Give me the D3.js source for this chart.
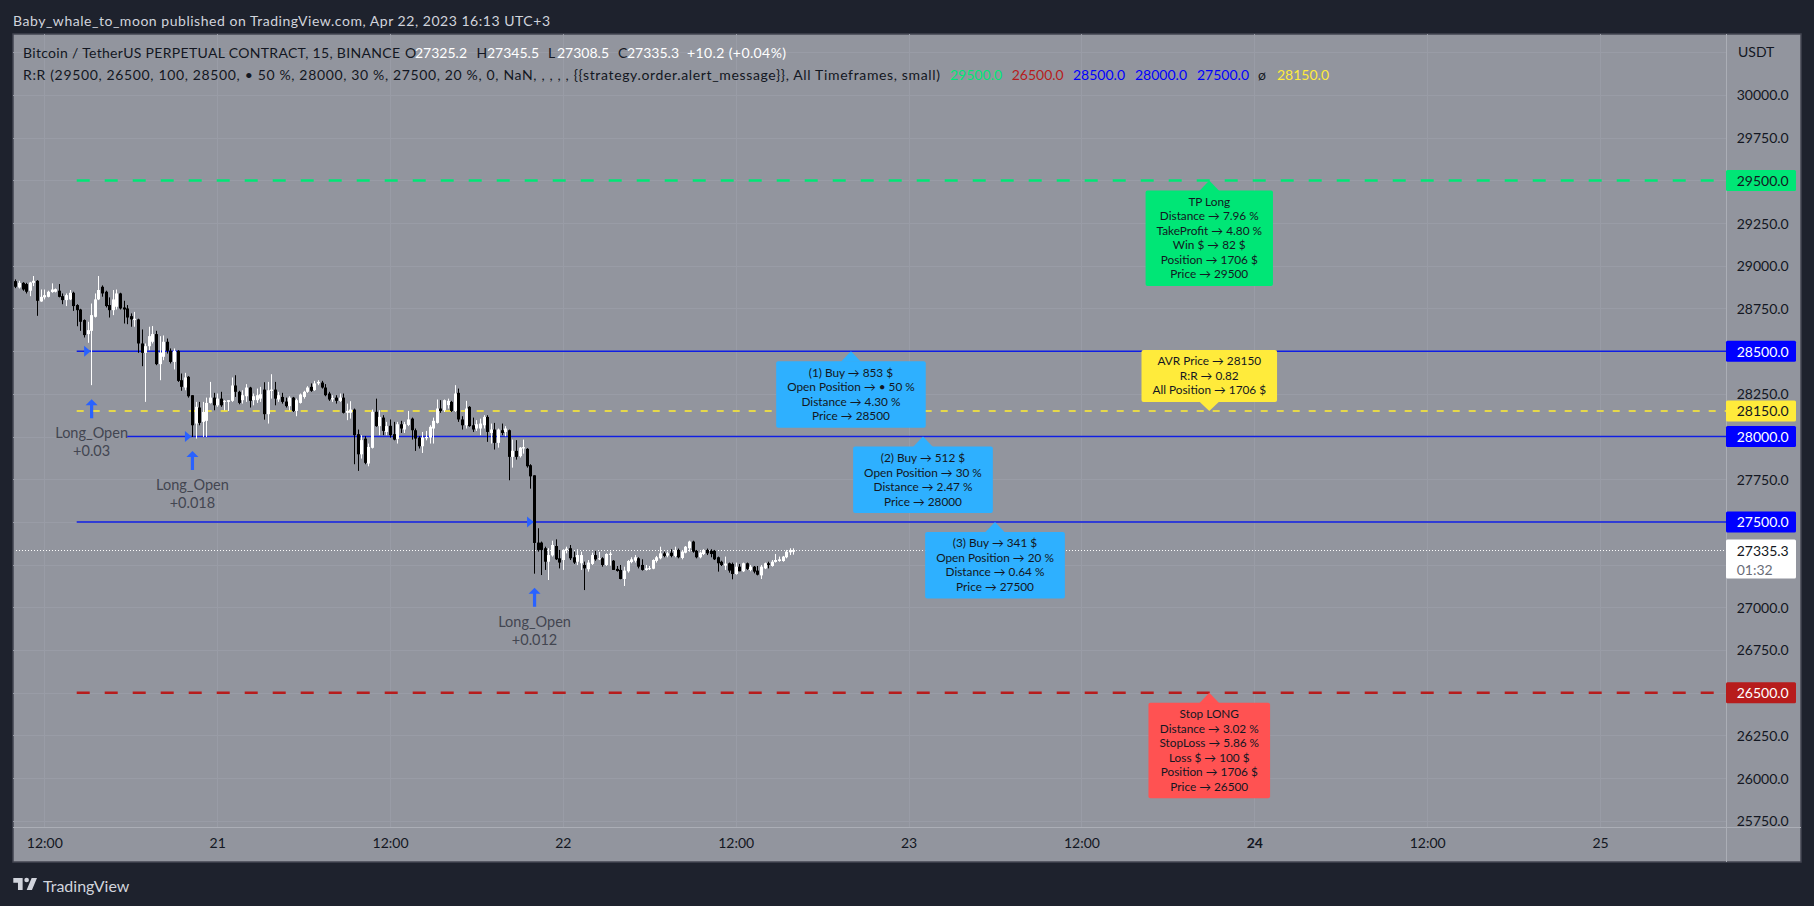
<!DOCTYPE html>
<html>
<head>
<meta charset="utf-8">
<title>BTCUSDT R:R</title>
<script src="https://cdn.jsdelivr.net/npm/d3@7"></script>
<style>
  html, body { margin: 0; padding: 0; background: #1e222d; overflow: hidden; }
  svg { display: block; font-family: Lato, "Noto Sans", sans-serif; }
</style>
</head>
<body>
<div id="chart"></div>
<script>
// 15m bars, index 0 = Apr 20 12:00, first bar is index -8
let firstBar = -8

let opens = [
  28910,28873,28900,28893,28854,28900,28912,28791,
  28815,28818,28846,28848,28854,28822,28799,28803,28842,28770,
  28744,28682,28600,28619,28701,28803,28877,28848,28770,28740,
  28760,28838,28756,28750,28705,28682,28686,28545,28490,28529,
  28555,28600,28424,28467,28555,28502,28437,28502,28330,28287,
  28350,28242,28076,28170,28086,28092,28197,28228,28183,28222,
  28203,28203,28209,28299,28262,28213,28236,28287,28213,28213,
  28222,28275,28131,28267,28275,28217,28232,28205,28178,28228,
  28150,28197,28232,28262,28291,28272,28311,28316,28287,28252,
  28217,28228,28209,28228,28139,28139,28158,28014,27896,27988,
  27842,27934,28145,28061,28111,28027,28063,28014,27986,28072,
  28041,28068,28105,28037,27994,27943,27990,27994,28047,28080,
  28164,28154,28184,28203,28150,28256,28100,28066,28174,28066,
  28047,28047,28066,28115,28021,28041,27963,28037,28027,28037,
  27881,27916,27885,27930,27928,27832,27773,27379,27379,27346,
  27267,27304,27359,27287,27277,27336,27346,27293,27267,27258,
  27248,27223,27254,27306,27281,27287,27248,27307,27273,27225,
  27219,27166,27211,27265,27273,27287,27248,27219,27223,27226,
  27272,27287,27316,27303,27320,27301,27336,27289,27320,27346,
  27385,27332,27293,27312,27336,27332,27332,27293,27267,27244,
  27258,27254,27195,27238,27211,27258,27219,27238,27215,27187,
  27228,27258,27242,27266,27271,27271,27293,27322,27325.2
]
let highs = [
  28920,28912,28904,28900,28906,28940,28916,28861,
  28861,28854,28897,28867,28893,28838,28838,28858,28848,28775,
  28748,28686,28672,28779,28838,28940,28885,28854,28815,28858,
  28861,28842,28795,28770,28721,28730,28690,28627,28545,28643,
  28647,28619,28588,28592,28574,28516,28516,28506,28369,28373,
  28354,28242,28203,28203,28203,28228,28320,28256,28252,28262,
  28213,28213,28346,28359,28268,28271,28307,28291,28252,28281,
  28291,28318,28320,28365,28320,28262,28256,28228,28236,28232,
  28222,28252,28268,28295,28311,28326,28330,28326,28307,28262,
  28242,28242,28252,28252,28193,28207,28164,28041,28008,28002,
  27959,28158,28222,28154,28125,28086,28100,28086,28086,28092,
  28086,28150,28111,28047,28002,28027,28033,28066,28111,28217,
  28213,28217,28222,28209,28301,28281,28119,28209,28178,28111,
  28096,28105,28125,28125,28076,28080,28047,28076,28061,28041,
  27982,27979,27939,27982,27932,27838,27773,27463,27385,27355,
  27346,27390,27398,27336,27340,27355,27365,27326,27340,27326,
  27268,27277,27320,27332,27324,27293,27316,27326,27277,27242,
  27248,27238,27277,27293,27306,27293,27281,27248,27242,27281,
  27301,27355,27326,27326,27340,27355,27344,27336,27359,27390,
  27390,27336,27326,27340,27344,27340,27336,27297,27273,27297,
  27262,27262,27262,27254,27262,27262,27248,27242,27242,27248,
  27262,27267,27277,27312,27297,27301,27336,27346,27345.5
]
let lows = [
  28869,28867,28854,28838,28822,28881,28707,28789,
  28803,28815,28842,28844,28815,28775,28764,28799,28736,28646,
  28619,28580,28549,28301,28697,28799,28819,28756,28697,28711,
  28744,28744,28662,28658,28643,28643,28490,28412,28203,28506,
  28545,28418,28330,28447,28486,28428,28393,28320,28268,28271,
  28228,27998,27988,28066,27998,27998,28193,28154,28174,28174,
  28154,28150,28203,28232,28189,28193,28203,28170,28183,28197,
  28203,28099,28076,28222,28183,28203,28193,28170,28154,28144,
  28119,28193,28222,28256,28262,28268,28301,28281,28236,28209,
  28203,28193,28203,28135,28096,28105,27838,27799,27871,27838,
  27826,27930,28057,28008,28008,28008,27994,27978,27959,28021,
  28021,28061,27982,27916,27930,27904,27978,27959,27959,28076,
  28139,28144,28164,28144,28144,28086,28041,28047,28057,28027,
  28033,28008,28047,27969,27959,27924,27935,28008,28002,27744,
  27818,27865,27877,27900,27818,27695,27197,27326,27189,27219,
  27160,27297,27277,27228,27219,27316,27277,27254,27248,27219,
  27101,27209,27248,27273,27277,27238,27242,27244,27219,27209,
  27164,27125,27203,27258,27262,27228,27215,27215,27219,27223,
  27262,27281,27293,27293,27293,27293,27287,27281,27316,27326,
  27320,27287,27287,27306,27306,27293,27277,27209,27242,27219,
  27203,27164,27191,27211,27207,27219,27211,27199,27187,27166,
  27224,27228,27238,27262,27267,27267,27287,27306,27308.5
]
let closes = [
  28877,28900,28861,28848,28902,28912,28795,28818,
  28828,28848,28861,28863,28818,28799,28828,28842,28764,28740,
  28672,28594,28623,28711,28803,28858,28838,28764,28740,28803,
  28838,28750,28744,28697,28686,28690,28545,28490,28529,28588,
  28600,28424,28490,28555,28502,28437,28502,28326,28291,28346,
  28236,28066,28174,28080,28144,28197,28228,28183,28222,28183,
  28209,28213,28299,28262,28197,28242,28287,28209,28236,28242,
  28248,28131,28271,28275,28222,28242,28203,28178,28228,28150,
  28213,28246,28262,28287,28268,28311,28320,28287,28242,28217,
  28225,28209,28228,28139,28150,28158,28008,27896,27979,27846,
  27939,28145,28061,28115,28033,28061,28008,27982,28072,28047,
  28072,28100,28037,27988,27943,27994,27998,28057,28092,28164,
  28150,28213,28209,28150,28252,28100,28066,28164,28061,28041,
  28072,28076,28115,28027,28041,27963,28041,28021,28047,27881,
  27916,27881,27935,27938,27826,27767,27377,27336,27336,27267,
  27306,27365,27281,27262,27336,27343,27287,27262,27306,27306,
  27228,27262,27306,27281,27287,27248,27312,27314,27219,27213,
  27166,27215,27271,27281,27293,27238,27219,27228,27229,27277,
  27293,27316,27301,27316,27301,27336,27293,27326,27355,27385,
  27326,27293,27320,27336,27316,27312,27281,27258,27248,27256,
  27215,27195,27238,27211,27258,27225,27238,27209,27191,27238,
  27258,27248,27267,27277,27281,27297,27326,27336,27335.3
]

// axes
let gridPrices = [25750,26000,26250,26500,26750,27000,27250,27500,27750,28000,28250,28500,28750,29000,29250,29500,29750,30000,30250]
// the rest of the grid prices sit behind a badge, so they get no tick label
let priceTicks = [25750,26000,26250,26750,27000,27750,28250,28750,29000,29250,29750,30000]
let timeTicks = [0,48,96,144,192,240,288,336,384,432]
let timeLabels = ["12:00","21","12:00","22","12:00","23","12:00","24","12:00","25"]
let boldTime = "24"

// levels
let tpPrice = 29500
let slPrice = 26500
let avrPrice = 28150
let buyPrices = [28500,28000,27500]
let buyStartBars = [9,23,9]
let lastPrice = 27335.3
let countdown = "01:32"

// entries
let entryBars = [13,41,136]
let entryLabels = ["+0.03","+0.018","+0.012"]

// boxes next to the levels
let boxBars = [224,244,264,323.5,323.5,323.5]
let boxPrices = [28500,28000,27500,29500,28150,26500]
let boxColors = ["#2eb0ff","#2eb0ff","#2eb0ff","#00e676","#ffeb3b","#ff5252"]
let boxTexts = [
  ["(1) Buy → 853 $","Open Position → • 50 %","Distance → 4.30 %","Price → 28500"],
  ["(2) Buy → 512 $","Open Position → 30 %","Distance → 2.47 %","Price → 28000"],
  ["(3) Buy → 341 $","Open Position → 20 %","Distance → 0.64 %","Price → 27500"],
  ["TP Long","Distance → 7.96 %","TakeProfit → 4.80 %","Win $ → 82 $","Position → 1706 $","Price → 29500"],
  ["AVR Price → 28150","R:R → 0.82","All Position → 1706 $"],
  ["Stop LONG","Distance → 3.02 %","StopLoss → 5.86 %","Loss $ → 100 $","Position → 1706 $","Price → 26500"]
]

let width = 1814, height = 906
let panelLeft = 13, panelRight = 1801, panelTop = 34, panelBottom = 862
let axisX = 1726, axisY = 827
let inkColor = "#131722"

let svg = d3.select("#chart").append("svg").attr("width", width).attr("height", height)

let x = d3.scaleLinear().domain([0, 432]).range([44.3, 1600])
let y = d3.scaleLinear().domain([26500, 30000]).range([692.7, 95])

// chart panel
svg.append("rect")
  .attr("x", panelLeft).attr("y", panelTop)
  .attr("width", panelRight - panelLeft).attr("height", panelBottom - panelTop)
  .attr("fill", "#92959e").attr("stroke", "#434651").attr("stroke-width", 1.5)

svg.append("defs").append("clipPath").attr("id", "plot").append("rect")
  .attr("x", panelLeft + 1).attr("y", panelTop + 1)
  .attr("width", axisX - panelLeft - 1).attr("height", axisY - panelTop - 1)

// grid
let grid = svg.append("g").attr("stroke", "#999ca6").attr("stroke-width", 1)
grid.selectAll("line.h").data(gridPrices).enter().append("line").attr("class", "h")
  .attr("x1", panelLeft).attr("x2", axisX)
  .attr("y1", d => Math.round(y(d)) + 0.5).attr("y2", d => Math.round(y(d)) + 0.5)
grid.selectAll("line.v").data(timeTicks).enter().append("line").attr("class", "v")
  .attr("x1", d => Math.round(x(d)) + 0.5).attr("x2", d => Math.round(x(d)) + 0.5)
  .attr("y1", panelTop).attr("y2", axisY)

// axis frame
svg.append("line").attr("x1", axisX + 0.5).attr("x2", axisX + 0.5).attr("y1", panelTop).attr("y2", panelBottom)
  .attr("stroke", "#abaeb6")
svg.append("line").attr("x1", panelLeft).attr("x2", panelRight).attr("y1", axisY + 0.5).attr("y2", axisY + 0.5)
  .attr("stroke", "#abaeb6")

let plot = svg.append("g").attr("clip-path", "url(#plot)")

// level lines
let xEnd = x.invert(axisX)
function level(price, startBar, color, w, dash) {
  plot.append("line")
    .attr("x1", x(startBar)).attr("x2", x(xEnd))
    .attr("y1", y(price)).attr("y2", y(price))
    .attr("stroke", color).attr("stroke-width", w)
    .attr("stroke-dasharray", dash)
}
level(tpPrice, 9, "#00e676", 2.5, "13,15")
level(slPrice, 9, "#b71c1c", 2.5, "13,15")
level(avrPrice, 9, "#e6d84a", 2, "7,9")
buyPrices.forEach((p, i) => level(p, buyStartBars[i], "#0f1ee4", 1.5, null))

// last price
plot.append("line")
  .attr("x1", panelLeft).attr("x2", axisX)
  .attr("y1", Math.round(y(lastPrice)) + 0.5).attr("y2", Math.round(y(lastPrice)) + 0.5)
  .attr("stroke", "#ffffff").attr("stroke-width", 1).attr("stroke-dasharray", "1,2")

// candles
let bars = opens.map((o, i) => ({
  bar: firstBar + i, o: o, h: highs[i], l: lows[i], c: closes[i]
}))
let candle = plot.selectAll("g.candle").data(bars).enter().append("g").attr("class", "candle")
  .attr("fill", d => d.c >= d.o ? "#ffffff" : "#000000")
candle.append("rect")
  .attr("x", d => Math.round(x(d.bar))).attr("width", 1)
  .attr("y", d => y(d.h)).attr("height", d => y(d.l) - y(d.h))
candle.append("rect")
  .attr("x", d => Math.round(x(d.bar)) - 1).attr("width", 3)
  .attr("y", d => y(Math.max(d.o, d.c)))
  .attr("height", d => Math.max(1, Math.abs(y(d.o) - y(d.c))))

// entry markers
let blue = "#2962ff"
buyPrices.forEach((p, i) => {
  let tipX = x(entryBars[i]) - 0.5
  plot.append("path")
    .attr("d", `M${tipX},${y(p)}L${tipX - 6.5},${y(p) - 5.5}L${tipX - 6.5},${y(p) + 5.5}Z`)
    .attr("fill", blue)
})
entryBars.forEach((b, i) => {
  let low = lows[b - firstBar]
  let cx = x(b) + 0.5
  let ty = y(low) + 14
  plot.append("path")
    .attr("d", `M${cx},${ty}L${cx + 6},${ty + 6}L${cx + 1.6},${ty + 6}L${cx + 1.6},${ty + 19}L${cx - 1.6},${ty + 19}L${cx - 1.6},${ty + 6}L${cx - 6},${ty + 6}Z`)
    .attr("fill", blue)
  let labels = plot.append("g").attr("text-anchor", "middle").attr("fill", "#434651")
    .attr("font-size", 14.5).attr("dominant-baseline", "central")
  labels.append("text").attr("x", cx).attr("y", ty + 33.5).text("Long_Open")
  labels.append("text").attr("x", cx).attr("y", ty + 51.5).text(entryLabels[i])
})

// boxes
boxTexts.forEach((lines, i) => {
  let tipX = x(boxBars[i])
  let tipY = y(boxPrices[i])
  let above = boxPrices[i] === avrPrice
  let h = lines.length * 14.5 + 8.5
  let boxTop = above ? tipY - 9 - h : tipY + 10
  let g = svg.append("g")
  let rect = g.append("rect").attr("y", boxTop).attr("height", h).attr("rx", 2)
    .attr("fill", boxColors[i])
  let baseY = above ? boxTop + h - 0.5 : boxTop + 0.5
  g.append("path")
    .attr("d", `M${tipX},${tipY}L${tipX - 10},${baseY}L${tipX + 10},${baseY}Z`)
    .attr("fill", boxColors[i])
  let maxW = 0
  lines.forEach((t, k) => {
    let node = g.append("text")
      .attr("x", tipX).attr("y", boxTop + 11 + k * 14.5)
      .attr("text-anchor", "middle").attr("dominant-baseline", "central")
      .attr("font-size", 11.8).attr("fill", inkColor).text(t)
    maxW = Math.max(maxW, node.node().getComputedTextLength())
  })
  rect.attr("x", tipX - maxW / 2 - 11).attr("width", maxW + 22)
})

// price axis
let yAxis = svg.append("g")
  .attr("transform", `translate(${axisX + 10.7},0.5)`)
  .call(d3.axisRight(y).tickValues(priceTicks).tickSize(0).tickPadding(0).tickFormat(d3.format(".1f")))
yAxis.select(".domain").remove()
yAxis.selectAll("text").attr("font-size", 14).attr("font-family", "Lato").attr("fill", inkColor)

svg.append("text").attr("x", 1738).attr("y", 51).attr("dominant-baseline", "central")
  .attr("font-size", 14).attr("fill", inkColor).text("USDT")

// time axis
let xAxis = svg.append("g")
  .attr("transform", `translate(0,${axisY + 11})`)
  .call(d3.axisBottom(x).tickValues(timeTicks).tickSize(0).tickPadding(0).tickFormat((d, i) => timeLabels[i]))
xAxis.select(".domain").remove()
xAxis.selectAll("text").attr("font-size", 14).attr("font-family", "Lato").attr("fill", inkColor)
  .attr("font-weight", d => timeLabels[timeTicks.indexOf(d)] === boldTime ? 700 : 400)

// price badges
function badge(price, bg, fg) {
  let cy = y(price)
  svg.append("rect").attr("x", axisX).attr("y", cy - 10.5).attr("width", 70).attr("height", 21)
    .attr("rx", 1.5).attr("fill", bg)
  svg.append("text").attr("x", axisX + 10.7).attr("y", cy).attr("dominant-baseline", "central")
    .attr("font-size", 14).attr("fill", fg).text(d3.format(".1f")(price))
}
badge(tpPrice, "#00e676", inkColor)
buyPrices.forEach(p => badge(p, "#0000ff", "#ffffff"))
badge(avrPrice, "#ffeb3b", inkColor)
badge(slPrice, "#b71c1c", "#ffffff")

// last price badge
let lastY = y(lastPrice)
svg.append("rect").attr("x", axisX).attr("y", lastY - 10.5).attr("width", 70).attr("height", 39)
  .attr("rx", 1.5).attr("fill", "#ffffff")
svg.append("text").attr("x", axisX + 10.7).attr("y", lastY + 0.5).attr("dominant-baseline", "central")
  .attr("font-size", 14).attr("fill", inkColor).text(d3.format(".1f")(lastPrice))
svg.append("text").attr("x", axisX + 10.7).attr("y", lastY + 19).attr("dominant-baseline", "central")
  .attr("font-size", 14).attr("fill", "#6a6d78").text(countdown)

// header and legend text
function label(px, py, t, color, size, len) {
  let node = svg.append("text").attr("x", px).attr("y", py).attr("dominant-baseline", "central")
    .attr("font-size", size || 14).attr("fill", color).text(t)
  if (len) node.attr("textLength", len).attr("lengthAdjust", "spacing")
  return node
}
label(13, 20, "Baby_whale_to_moon published on TradingView.com, Apr 22, 2023 16:13 UTC+3", "#d1d4dc", 14, 537)

label(23, 52.5, "Bitcoin / TetherUS PERPETUAL CONTRACT, 15, BINANCE", inkColor, 14, 377)
label(405, 52.5, "O", inkColor)
label(415, 52.5, "27325.2", "#ffffff")
label(476.5, 52.5, "H", inkColor)
label(487, 52.5, "27345.5", "#ffffff")
label(548, 52.5, "L", inkColor)
label(557, 52.5, "27308.5", "#ffffff")
label(618, 52.5, "C", inkColor)
label(627, 52.5, "27335.3", "#ffffff")
label(687, 52.5, "+10.2 (+0.04%)", "#ffffff", 14, 99)

label(23, 74.5, "R:R (29500, 26500, 100, 28500, • 50 %, 28000, 30 %, 27500, 20 %, 0, NaN, , , , , {{strategy.order.alert_message}}, All Timeframes, small)", inkColor, 14, 917)
label(950, 74.5, "29500.0", "#00e676")
label(1011.7, 74.5, "26500.0", "#b71c1c")
label(1073, 74.5, "28500.0", "#0000ff")
label(1135, 74.5, "28000.0", "#0000ff")
label(1197, 74.5, "27500.0", "#0000ff")
label(1258, 74.5, "ø", inkColor)
label(1277, 74.5, "28150.0", "#ffeb3b")

// footer logo
let logo = svg.append("g").attr("transform", "translate(13.3,875.3) scale(0.667)").attr("fill", "#d1d4dc")
logo.append("path").attr("d", "M14 22H7V11H0V4h14v18zM28 22h-8l7.5-18h8L28 22z")
logo.append("circle").attr("cx", 20).attr("cy", 7).attr("r", 3.5)
label(43, 885, "TradingView", "#d1d4dc", 16)
</script>
</body>
</html>
